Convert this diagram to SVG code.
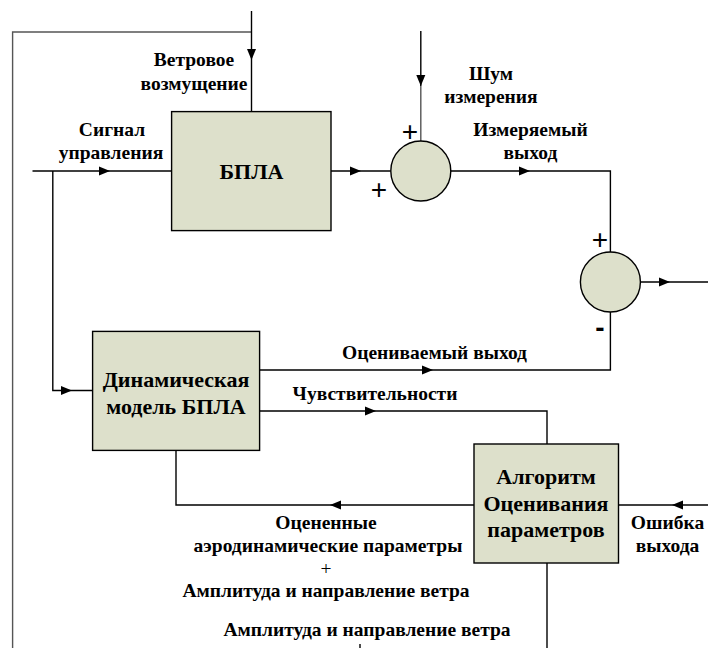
<svg xmlns="http://www.w3.org/2000/svg" xmlns:xlink="http://www.w3.org/1999/xlink" width="708" height="648" viewBox="0 0 708 648">
<style>
.ln{fill:none;stroke:#000;stroke-width:1.4}
.gr{fill:none;stroke:#555;stroke-width:1.4}
.bx{fill:#dde0cb;stroke:#000;stroke-width:1.4}
.t{font-family:'Liberation Serif','Times New Roman','DejaVu Serif',serif;font-weight:700;font-size:19.5px;fill:#000;text-anchor:middle}
.tb{font-family:'Liberation Serif','Times New Roman','DejaVu Serif',serif;font-weight:700;font-size:22px;fill:#000;text-anchor:middle}
.sg{font-family:'Liberation Sans',Arial,sans-serif;font-size:28px;fill:#000;text-anchor:middle}
</style>
<defs>
<polygon id="ah" points="0,0 -11,-4.5 -11,4.5" fill="#000"/>
</defs>
<rect width="708" height="648" fill="#fff"/>
<g id="connectors">
<polyline class="gr" points="12.6,648 12.6,32 251.5,32"/>
<line class="ln" x1="251.5" y1="11" x2="251.5" y2="111.6"/>
<use xlink:href="#ah" transform="translate(251.5,60) rotate(90)"/>
<line class="ln" x1="32.5" y1="171" x2="171.6" y2="171"/>
<use xlink:href="#ah" transform="translate(110,171)"/>
<polyline class="ln" points="52.8,171 52.8,390.5 92.6,390.5"/>
<use xlink:href="#ah" transform="translate(72,390.5)"/>
<line class="ln" x1="331" y1="171" x2="390.8" y2="171"/>
<use xlink:href="#ah" transform="translate(361,171)"/>
<line class="ln" x1="420.8" y1="31" x2="420.8" y2="86"/>
<line class="gr" x1="420.8" y1="86" x2="420.8" y2="141"/>
<use xlink:href="#ah" transform="translate(420.8,86) rotate(90)"/>
<polyline class="ln" points="450.8,171 610.4,171 610.4,252"/>
<use xlink:href="#ah" transform="translate(530,171)"/>
<line class="ln" x1="640.4" y1="282" x2="708" y2="282"/>
<use xlink:href="#ah" transform="translate(670,282)"/>
<polyline class="ln" points="610.4,312 610.4,370 259.6,370"/>
<use xlink:href="#ah" transform="translate(433,370)"/>
<polyline class="ln" points="259.6,411 547,411 547,444"/>
<use xlink:href="#ah" transform="translate(376,411)"/>
<polyline class="ln" points="474,505 176,505 176,450.4"/>
<use xlink:href="#ah" transform="translate(330,505) rotate(180)"/>
<line class="ln" x1="708" y1="505" x2="618.5" y2="505"/>
<use xlink:href="#ah" transform="translate(672,505) rotate(180)"/>
<line class="ln" x1="547" y1="563" x2="547" y2="648"/>
<line class="ln" x1="360" y1="644" x2="360" y2="648"/>
</g>
<g id="bpla">
<rect class="bx" x="171.6" y="111.6" width="159.4" height="119"/>
<text class="tb" x="251.5" y="179">БПЛА</text>
</g>
<g id="sum1">
<circle class="bx" cx="420.8" cy="171" r="30"/>
<text class="sg" x="410" y="141">+</text>
<text class="sg" x="379" y="199">+</text>
</g>
<g id="sum2">
<circle class="bx" cx="610.4" cy="282" r="30"/>
<text class="sg" x="600" y="249">+</text>
<text class="sg" x="600" y="337" style="font-weight:bold">-</text>
</g>
<g id="model">
<rect class="bx" x="92.6" y="331.4" width="167" height="119"/>
<text class="tb" x="176" y="387">Динамическая</text>
<text class="tb" x="176" y="414">модель БПЛА</text>
</g>
<g id="algorithm">
<rect class="bx" x="474" y="444" width="144.5" height="119"/>
<text class="tb" x="546" y="484">Алгоритм</text>
<text class="tb" x="546" y="511">Оценивания</text>
<text class="tb" x="546" y="537">параметров</text>
</g>
<g id="labels">
<text class="t" x="194" y="66">Ветровое</text>
<text class="t" x="194" y="90">возмущение</text>
<text class="t" x="112" y="136">Сигнал</text>
<text class="t" x="111" y="159">управления</text>
<text class="t" x="491" y="80">Шум</text>
<text class="t" x="491" y="103">измерения</text>
<text class="t" x="530.5" y="136">Измеряемый</text>
<text class="t" x="530.5" y="159">выход</text>
<text class="t" x="434.5" y="359">Оцениваемый выход</text>
<text class="t" x="375" y="400">Чувствительности</text>
<text class="t" x="667.5" y="529">Ошибка</text>
<text class="t" x="667.5" y="552">выхода</text>
<text class="t" x="326" y="529">Оцененные</text>
<text class="t" x="328" y="552">аэродинамические параметры</text>
<text class="t" x="326" y="575" style="font-weight:normal">+</text>
<text class="t" x="326" y="597">Амплитуда и направление ветра</text>
<text class="t" x="367" y="636">Амплитуда и направление ветра</text>
</g>
</svg>
